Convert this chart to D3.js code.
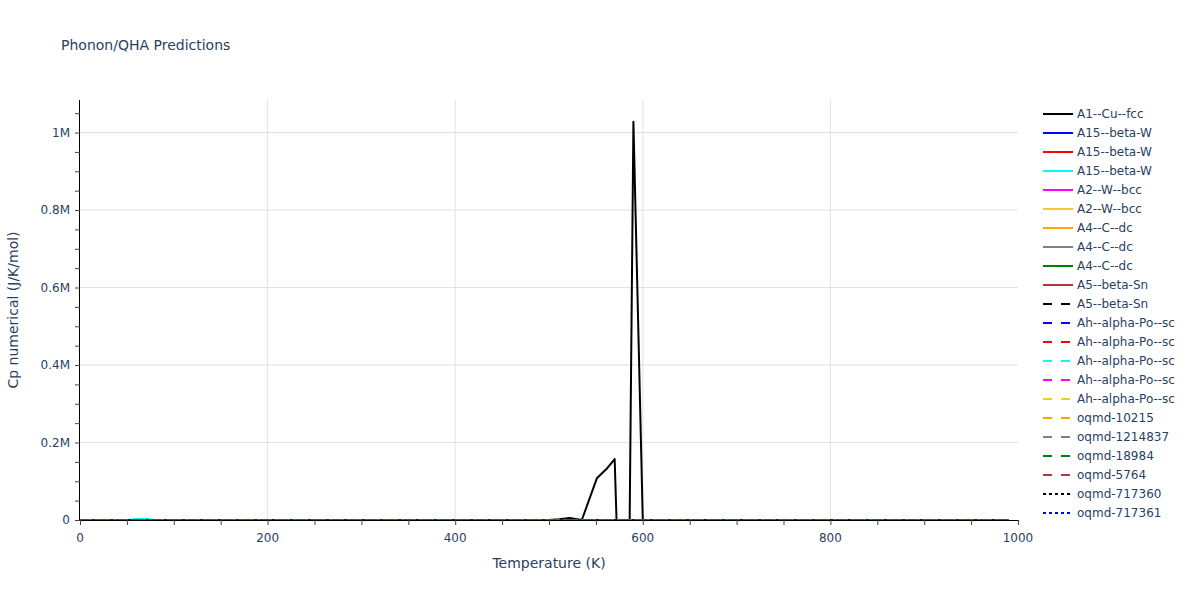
<!DOCTYPE html>
<html>
<head>
<meta charset="utf-8">
<script src="https://cdn.jsdelivr.net/npm/d3@7"></script>
<style>
  body { margin: 0; background: #fff; }
  svg text { font-family: "DejaVu Sans", "Open Sans", sans-serif; fill: #2a3f5f; }
</style>
</head>
<body>
<svg id="chart" width="1200" height="600"></svg>
<script>
// ---- data ----
var seriesNames = ["A1--Cu--fcc", "A15--beta-W", "A15--beta-W", "A15--beta-W", "A2--W--bcc", "A2--W--bcc",
    "A4--C--dc", "A4--C--dc", "A4--C--dc", "A5--beta-Sn", "A5--beta-Sn",
    "Ah--alpha-Po--sc", "Ah--alpha-Po--sc", "Ah--alpha-Po--sc", "Ah--alpha-Po--sc", "Ah--alpha-Po--sc",
    "oqmd-10215", "oqmd-1214837", "oqmd-18984", "oqmd-5764", "oqmd-717360", "oqmd-717361"];
var seriesColors = ["#000000", "#0000ff", "#ff0000", "#00ffff", "#ff00ff", "#f0c93a", "#ffa500", "#808080", "#008000", "#b03a3a",
    "#000000", "#0000ff", "#ff0000", "#00ffff", "#ff00ff", "#f0c93a", "#ffa500", "#808080", "#008000", "#b03a3a",
    "#000000", "#0000ff"];
var seriesDash = ["solid", "solid", "solid", "solid", "solid", "solid", "solid", "solid", "solid", "solid",
    "dash", "dash", "dash", "dash", "dash", "dash", "dash", "dash", "dash", "dash",
    "dot", "dot"];

// A1--Cu--fcc has the big spikes
var cuTemps = [0, 50, 100, 150, 200, 250, 300, 350, 400, 450, 500, 511, 522, 535, 551, 561, 570, 572, 586, 590, 600, 650, 700, 750, 800, 850, 900, 950, 990];
var cuCp    = [0, 14, 19, 21, 22, 23, 24, 24, 25, 25, 26, 2000, 5000, 0, 107600, 130800, 157400, 0, 0, 1028000, 0, 0, 0, 0, 0, 0, 0, 0, 0];

// the other series stay near zero on this scale
var baseTemps = [0, 50, 100, 200, 300, 400, 500, 600, 700, 800, 900, 990];
var cyanTemps = [0, 50, 60, 70, 80, 100, 200, 300, 400, 500, 600, 700, 800, 900, 990];
var cyanCp    = [0, 40, 2500, 3000, 60, 70, 75, 77, 78, 79, 80, 81, 82, 83, 84];
var otherCp = [
  null,
  [0, 30, 55, 70, 74, 76, 77, 78, 79, 80, 81, 82],
  [0, 28, 52, 68, 73, 75, 76, 77, 78, 79, 80, 81],
  null,
  [0, 9, 17, 22, 24, 25, 25, 26, 26, 27, 27, 28],
  [0, 8, 16, 22, 24, 25, 25, 26, 26, 27, 27, 28],
  [0, 1, 3, 8, 12, 16, 18, 20, 21, 22, 22, 23],
  [0, 1, 3, 8, 12, 15, 18, 19, 21, 21, 22, 23],
  [0, 1, 2, 7, 12, 15, 18, 19, 20, 21, 22, 22],
  [0, 20, 24, 26, 27, 28, 29, 30, 31, 32, 33, 34],
  [0, 19, 23, 25, 26, 27, 28, 29, 30, 31, 32, 33],
  [0, 22, 25, 26, 27, 27, 28, 28, 29, 29, 30, 30],
  [0, 21, 24, 25, 26, 27, 27, 28, 28, 29, 29, 30],
  [0, 22, 24, 26, 26, 27, 28, 28, 29, 29, 30, 31],
  [0, 21, 25, 26, 27, 27, 28, 29, 29, 30, 30, 31],
  [0, 22, 25, 26, 26, 27, 28, 28, 29, 30, 30, 31],
  [0, 12, 30, 52, 62, 67, 70, 72, 73, 74, 75, 76],
  [0, 15, 35, 58, 66, 70, 72, 74, 75, 76, 77, 78],
  [0, 10, 28, 50, 60, 66, 69, 71, 72, 73, 74, 75],
  [0, 18, 40, 62, 70, 73, 75, 76, 77, 78, 79, 80],
  [0, 20, 42, 64, 71, 74, 76, 77, 78, 79, 80, 81],
  [0, 19, 41, 63, 70, 74, 75, 77, 78, 79, 80, 80]
];

var xTicks = [0, 200, 400, 600, 800, 1000];
var yTicks = [0, 200000, 400000, 600000, 800000, 1000000];
var yTickLabels = ["0", "0.2M", "0.4M", "0.6M", "0.8M", "1M"];

// ---- layout ----
var svg = d3.select("#chart");
var pLeft = 80, pRight = 1018, pTop = 100, pBottom = 520;

var x = d3.scaleLinear().domain([0, 1000]).range([pLeft, pRight]);
var y = d3.scaleLinear().domain([0, 1084000]).range([pBottom, pTop]);

// build series list
var series = seriesNames.map(function (name, i) {
    var pts;
    if (i == 0) pts = cuTemps.map(function (t, j) { return [t, cuCp[j]]; });
    else if (i == 3) pts = cyanTemps.map(function (t, j) { return [t, cyanCp[j]]; });
    else pts = baseTemps.map(function (t, j) { return [t, otherCp[i][j]]; });
    return { name: name, color: seriesColors[i], dash: seriesDash[i], pts: pts };
});

function dashArray(d) {
    if (d == "dash") return "9,9";
    if (d == "dot") return "3,3";
    return null;
}

// grid
var grid = svg.append("g");
grid.selectAll(".gx").data(xTicks.slice(1, -1)).enter().append("line")
    .attr("x1", function (d) { return x(d); }).attr("x2", function (d) { return x(d); })
    .attr("y1", pTop).attr("y2", pBottom)
    .attr("stroke", "#e1e1e1").attr("stroke-width", 1);
grid.selectAll(".gy").data(yTicks.slice(1)).enter().append("line")
    .attr("x1", pLeft).attr("x2", pRight)
    .attr("y1", function (d) { return y(d); }).attr("y2", function (d) { return y(d); })
    .attr("stroke", "#e1e1e1").attr("stroke-width", 1);

// lines
svg.append("clipPath").attr("id", "plotclip").append("rect")
    .attr("x", pLeft).attr("y", pTop - 2).attr("width", pRight - pLeft).attr("height", pBottom - pTop + 3);
var lineGen = d3.line().x(function (d) { return x(d[0]); }).y(function (d) { return y(d[1]); });
var plot = svg.append("g").attr("clip-path", "url(#plotclip)");
// red dashed alpha-Po shows on top in the picture, so it goes last
var drawOrder = d3.range(series.length).filter(function (i) { return i != 12; }).concat([12]);
drawOrder.forEach(function (i) {
    var s = series[i];
    plot.append("path")
        .attr("d", lineGen(s.pts))
        .attr("fill", "none")
        .attr("stroke", s.color)
        .attr("stroke-width", 2)
        .attr("stroke-dasharray", dashArray(s.dash))
        .attr("stroke-linejoin", "round");
});

// axes
var xAxis = d3.axisBottom(x).tickValues(d3.range(0, 1001, 50)).tickSize(5).tickFormat("");
var gx = svg.append("g").attr("transform", "translate(0," + pBottom + ")").call(xAxis);
gx.select(".domain").attr("stroke", "#000").attr("d", "M" + pLeft + ",0.5H" + pRight);
gx.selectAll(".tick line").attr("stroke", "#444");
gx.selectAll(".xl").data(xTicks).enter().append("text")
    .attr("x", function (d) { return x(d); }).attr("y", 22)
    .attr("text-anchor", "middle").attr("font-size", 12)
    .text(function (d) { return d; });

var yAxis = d3.axisLeft(y).tickValues(d3.range(0, 1084000, 50000)).tickSize(5).tickFormat("");
var gy = svg.append("g").attr("transform", "translate(" + pLeft + ",0)").call(yAxis);
gy.select(".domain").attr("stroke", "#000").attr("d", "M-0.5," + pTop + "V" + pBottom);
gy.selectAll(".tick line").attr("stroke", "#444");
gy.selectAll(".yl").data(yTicks).enter().append("text")
    .attr("x", -10).attr("y", function (d) { return y(d) + 4; })
    .attr("text-anchor", "end").attr("font-size", 12)
    .text(function (d, i) { return yTickLabels[i]; });

// titles
svg.append("text").attr("x", 61).attr("y", 50).attr("font-size", 14).text("Phonon/QHA Predictions");
svg.append("text").attr("x", (pLeft + pRight) / 2).attr("y", 568).attr("text-anchor", "middle")
    .attr("font-size", 14).text("Temperature (K)");
svg.append("text").attr("transform", "translate(18," + (pTop + pBottom) / 2 + ") rotate(-90)")
    .attr("text-anchor", "middle").attr("font-size", 14).text("Cp numerical (J/K/mol)");

// legend
var legend = svg.append("g").attr("transform", "translate(1043,114)");
var rows = legend.selectAll(".lg").data(series).enter().append("g")
    .attr("transform", function (d, i) { return "translate(0," + (i * 19) + ")"; });
rows.append("line").attr("x1", 0).attr("x2", 30).attr("y1", 0).attr("y2", 0)
    .attr("stroke", function (d) { return d.color; }).attr("stroke-width", 2)
    .attr("stroke-dasharray", function (d) { return dashArray(d.dash); });
rows.append("text").attr("x", 34).attr("y", 4).attr("font-size", 12)
    .text(function (d) { return d.name; });
</script>
</body>
</html>
